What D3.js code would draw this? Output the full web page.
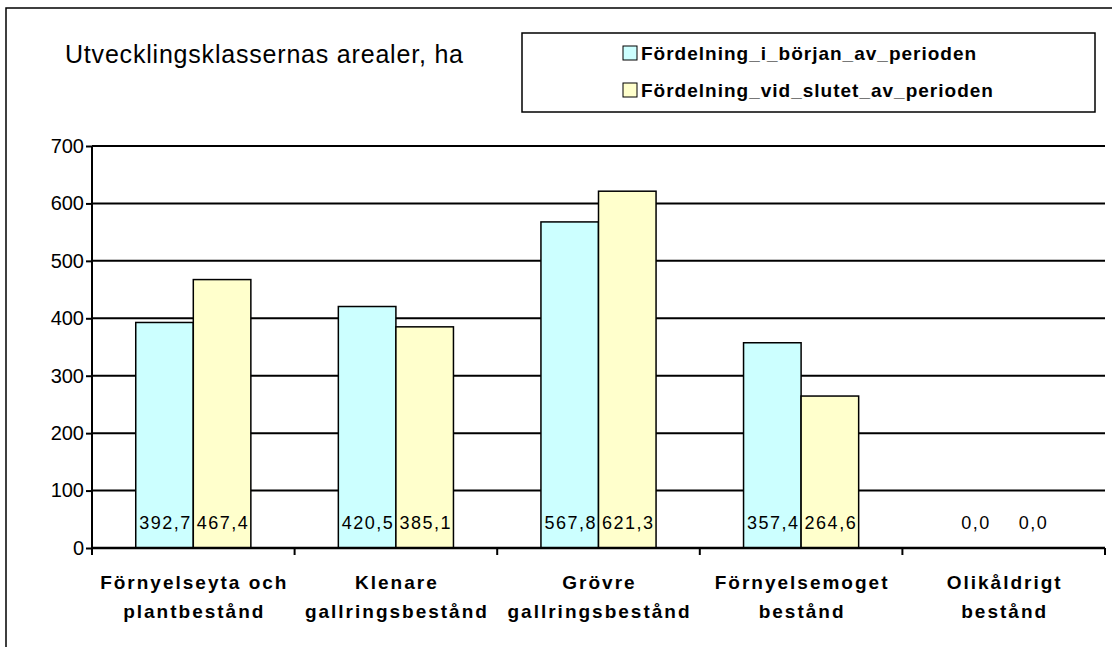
<!DOCTYPE html>
<html>
<head>
<meta charset="utf-8">
<script src="https://cdn.jsdelivr.net/npm/d3@7"></script>
<style>
  body { margin: 0; background: #fff; }
  svg { display: block; font-family: "Liberation Sans", Arial, sans-serif; }
</style>
</head>
<body>
<div id="viz"></div>
<script>
var categories = [
  ["Förnyelseyta och", "plantbestånd"],
  ["Klenare", "gallringsbestånd"],
  ["Grövre", "gallringsbestånd"],
  ["Förnyelsemoget", "bestånd"],
  ["Olikåldrigt", "bestånd"]
];
var seriesNames = ["Fördelning_i_början_av_perioden", "Fördelning_vid_slutet_av_perioden"];
var startValues = [392.7, 420.5, 567.8, 357.4, 0.0];
var endValues = [467.4, 385.1, 621.3, 264.6, 0.0];
var yTicks = [0, 100, 200, 300, 400, 500, 600, 700];
var colors = ["#ccffff", "#ffffcc"];

var W = 1112, H = 647;
var margin = {top: 146, right: 7, bottom: 99, left: 92};
var width = W - margin.left - margin.right;
var height = H - margin.top - margin.bottom;

var svg = d3.select("#viz").append("svg")
    .attr("width", W)
    .attr("height", H);

// outer frame (runs off the right and bottom)
svg.append("rect")
    .attr("x", 6).attr("y", 8)
    .attr("width", W + 20).attr("height", H + 20)
    .attr("fill", "none").attr("stroke", "#000").attr("stroke-width", 1.5);

svg.append("text")
    .attr("x", 65).attr("y", 63)
    .attr("font-size", 25)
    .attr("letter-spacing", 0.8)
    .attr("fill", "#000")
    .text("Utvecklingsklassernas arealer, ha");

// legend
var legend = svg.append("g");
legend.append("rect")
    .attr("x", 522).attr("y", 33).attr("width", 573).attr("height", 79)
    .attr("fill", "#fff").attr("stroke", "#000").attr("stroke-width", 1.5);
seriesNames.forEach(function(name, i){
  var cy = 53 + i * 37;
  legend.append("rect")
      .attr("x", 623).attr("y", cy - 7).attr("width", 14).attr("height", 14)
      .attr("fill", colors[i]).attr("stroke", "#000").attr("stroke-width", 1);
  legend.append("text")
      .attr("x", 641).attr("y", cy + 7)
      .attr("font-size", 19).attr("font-weight", "bold")
      .attr("letter-spacing", 1)
      .text(name);
});

var g = svg.append("g").attr("transform", "translate(" + margin.left + "," + margin.top + ")");

var x0 = d3.scaleBand().domain(d3.range(categories.length)).range([0, width]).paddingInner(0).paddingOuter(0);
var x1 = d3.scaleBand().domain([0, 1]).range([0, x0.bandwidth()]).paddingOuter(0.76).paddingInner(0);
var y = d3.scaleLinear().domain([0, 700]).range([height, 0]);

// gridlines
g.selectAll(".grid").data(yTicks.slice(1)).enter().append("line")
    .attr("x1", 0).attr("x2", width)
    .attr("y1", function(d){ return y(d); }).attr("y2", function(d){ return y(d); })
    .attr("stroke", "#000").attr("stroke-width", 2);

var data = categories.map(function(c, i){ return [startValues[i], endValues[i]]; });

var groups = g.selectAll(".grp").data(data).enter().append("g")
    .attr("transform", function(d, i){ return "translate(" + x0(i) + ",0)"; });

groups.selectAll("rect").data(function(d){ return d; }).enter().append("rect")
    .attr("x", function(d, j){ return x1(j); })
    .attr("y", function(d){ return y(d); })
    .attr("width", x1.bandwidth())
    .attr("height", function(d){ return y(0) - y(d); })
    .attr("fill", function(d, j){ return colors[j]; })
    .attr("stroke", "#000").attr("stroke-width", 1.5);

groups.selectAll(".val").data(function(d){ return d; }).enter().append("text")
    .attr("x", function(d, j){ return x1(j) + x1.bandwidth() / 2 + 1; })
    .attr("y", height - 19)
    .attr("text-anchor", "middle")
    .attr("font-size", 18)
    .attr("letter-spacing", 1.5)
    .text(function(d){ return d.toFixed(1).replace(".", ","); });

// y axis
var yAxis = g.append("g").call(d3.axisLeft(y).tickValues(yTicks).tickSize(6).tickPadding(2).tickFormat(d3.format("d")));
yAxis.select(".domain").attr("stroke-width", 2).attr("d", "M0," + y(0) + "V" + y(700));
yAxis.selectAll(".tick line").attr("stroke-width", 2);
yAxis.selectAll(".tick text").attr("font-size", 20).attr("fill", "#000").attr("font-family", "Liberation Sans, Arial, sans-serif");

// x axis
var xb = g.append("g").attr("transform", "translate(0," + height + ")");
xb.append("line").attr("x1", 0).attr("x2", width).attr("stroke", "#000").attr("stroke-width", 2.5);
xb.selectAll(".xt").data(d3.range(categories.length + 1)).enter().append("line")
    .attr("x1", function(i){ return i * x0.step(); })
    .attr("x2", function(i){ return i * x0.step(); })
    .attr("y1", 0).attr("y2", 7)
    .attr("stroke", "#000").attr("stroke-width", 2);

xb.selectAll(".xl").data(categories).enter().append("text")
    .attr("x", function(d, i){ return x0(i) + x0.bandwidth() / 2 + 1; })
    .attr("y", 41)
    .attr("text-anchor", "middle")
    .attr("font-size", 19).attr("font-weight", "bold")
    .attr("letter-spacing", 2)
    .each(function(d){
      var t = d3.select(this);
      d.forEach(function(line, k){
        t.append("tspan").attr("x", t.attr("x")).attr("dy", k === 0 ? 0 : 29).text(line);
      });
    });
</script>
</body>
</html>
